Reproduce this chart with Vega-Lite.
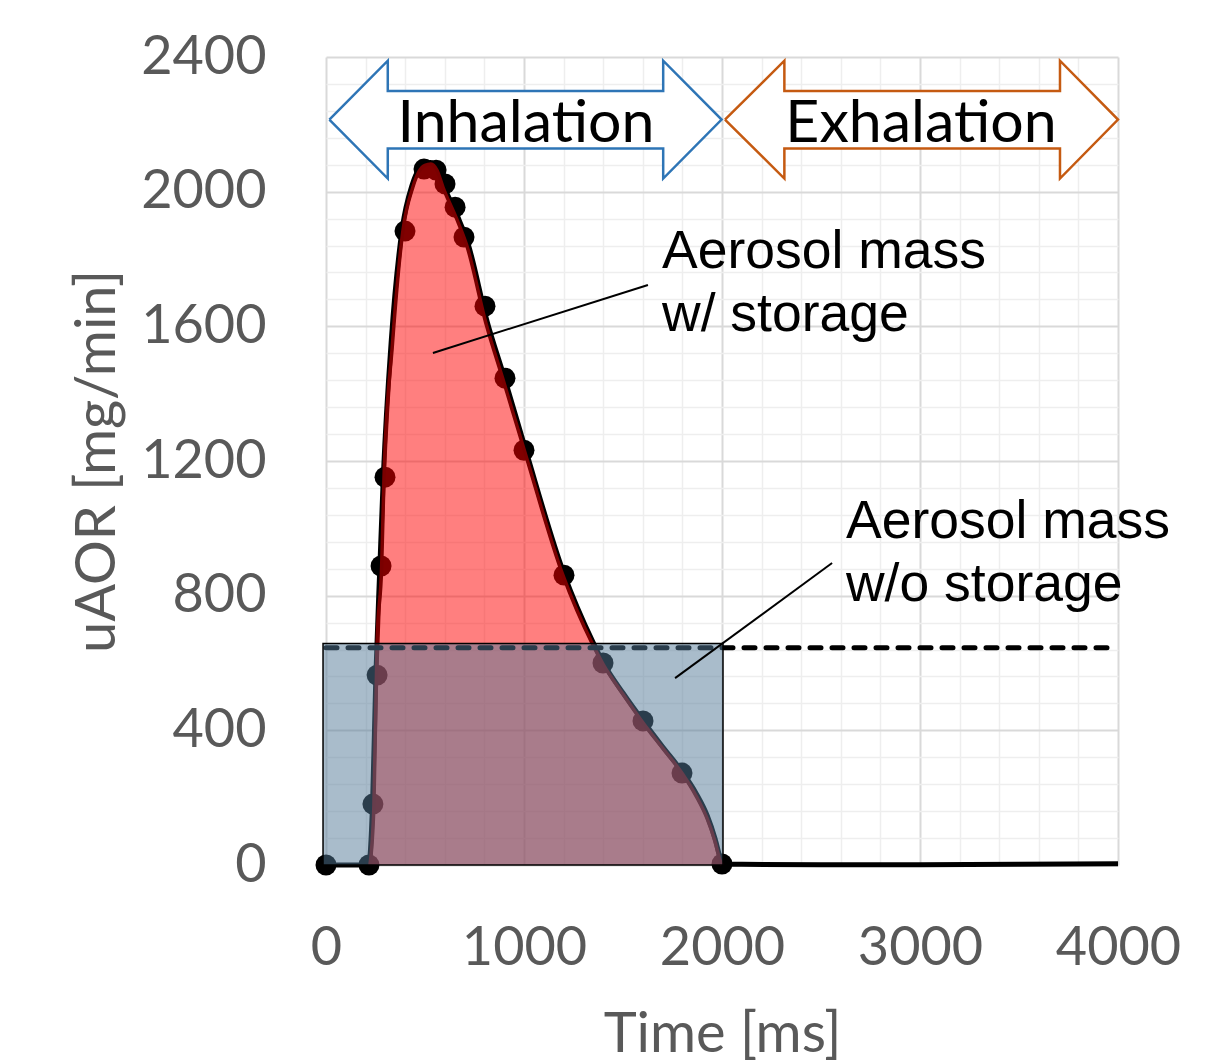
{
  "$schema": "https://vega.github.io/schema/vega-lite/v6.json",
  "autosize": {"type": "none"},
  "width": 792,
  "height": 808,
  "padding": {"left": 326, "top": 57, "right": 113, "bottom": 198},
  "background": "white",
  "config": {"view": {"stroke": null}},
  "resolve": {"axis": {"x": "independent", "y": "independent"}},
  "datasets": {
    "measured": [
      {"t": 0, "v": 0}, {"t": 215, "v": 0}, {"t": 235, "v": 180}, {"t": 252, "v": 565}, {"t": 272, "v": 885},
      {"t": 290, "v": 1160}, {"t": 330, "v": 1560}, {"t": 385, "v": 1890}, {"t": 435, "v": 2020}, {"t": 470, "v": 2068},
      {"t": 500, "v": 2084}, {"t": 530, "v": 2087}, {"t": 560, "v": 2070}, {"t": 595, "v": 2016}, {"t": 665, "v": 1926},
      {"t": 715, "v": 1850}, {"t": 815, "v": 1612}, {"t": 900, "v": 1450}, {"t": 1008, "v": 1234}, {"t": 1200, "v": 868},
      {"t": 1350, "v": 660}, {"t": 1400, "v": 601}, {"t": 1500, "v": 511}, {"t": 1600, "v": 429}, {"t": 1700, "v": 351},
      {"t": 1800, "v": 276}, {"t": 1870, "v": 212}, {"t": 1925, "v": 147}, {"t": 1965, "v": 78}, {"t": 1990, "v": 22},
      {"t": 2000, "v": 3}, {"t": 2100, "v": 2}, {"t": 2500, "v": 1}, {"t": 3000, "v": 1}, {"t": 3500, "v": 2}, {"t": 4000, "v": 4}
    ],
    "fit": [
      {"t": 222, "v": 0}, {"t": 242, "v": 178}, {"t": 258, "v": 660}, {"t": 281, "v": 885}, {"t": 293, "v": 1152},
      {"t": 336, "v": 1550}, {"t": 389, "v": 1886}, {"t": 439, "v": 2014}, {"t": 470, "v": 2060}, {"t": 500, "v": 2078},
      {"t": 530, "v": 2082}, {"t": 560, "v": 2064}, {"t": 591, "v": 2013}, {"t": 660, "v": 1919}, {"t": 710, "v": 1842},
      {"t": 810, "v": 1604}, {"t": 893, "v": 1444}, {"t": 1003, "v": 1229}, {"t": 1195, "v": 863}, {"t": 1346, "v": 656},
      {"t": 1399, "v": 597}, {"t": 1500, "v": 507}, {"t": 1600, "v": 423}, {"t": 1700, "v": 347}, {"t": 1800, "v": 271},
      {"t": 1870, "v": 204}, {"t": 1924, "v": 139}, {"t": 1965, "v": 69}, {"t": 1990, "v": 14}, {"t": 2000, "v": 0}
    ],
    "dots": [
      {"t": 0, "v": 0}, {"t": 217, "v": 0}, {"t": 237, "v": 181}, {"t": 258, "v": 564}, {"t": 278, "v": 888},
      {"t": 298, "v": 1152}, {"t": 399, "v": 1883}, {"t": 495, "v": 2067}, {"t": 556, "v": 2064}, {"t": 601, "v": 2023},
      {"t": 652, "v": 1954}, {"t": 697, "v": 1865}, {"t": 803, "v": 1660}, {"t": 904, "v": 1446}, {"t": 1000, "v": 1232},
      {"t": 1202, "v": 861}, {"t": 1399, "v": 600}, {"t": 1601, "v": 428}, {"t": 1798, "v": 273}, {"t": 2000, "v": 3}
    ],
    "box": [{"t0": -15, "t1": 2005, "v0": 0, "v1": 658}],
    "level": [{"t0": 0, "t1": 4000, "v": 645}],
    "leaders": [
      {"t0": 540, "v0": 1521, "t1": 1626, "v1": 1723},
      {"t0": 1763, "v0": 555, "t1": 2556, "v1": 897}
    ],
    "notes": [
      {"t": 1697, "v": 1773, "text": "Aerosol mass"},
      {"t": 1697, "v": 1586, "text": "w/ storage"},
      {"t": 2626, "v": 971, "text": "Aerosol mass"},
      {"t": 2626, "v": 784, "text": "w/o storage"}
    ],
    "arrows": [
      {"phase": "Inhalation", "i": 0, "t": 17, "v": 2214},
      {"phase": "Inhalation", "i": 1, "t": 312, "v": 2389},
      {"phase": "Inhalation", "i": 2, "t": 312, "v": 2299},
      {"phase": "Inhalation", "i": 3, "t": 1703, "v": 2299},
      {"phase": "Inhalation", "i": 4, "t": 1703, "v": 2389},
      {"phase": "Inhalation", "i": 5, "t": 1998, "v": 2214},
      {"phase": "Inhalation", "i": 6, "t": 1703, "v": 2039},
      {"phase": "Inhalation", "i": 7, "t": 1703, "v": 2128},
      {"phase": "Inhalation", "i": 8, "t": 312, "v": 2128},
      {"phase": "Inhalation", "i": 9, "t": 312, "v": 2039},
      {"phase": "Inhalation", "i": 10, "t": 17, "v": 2214},
      {"phase": "Exhalation", "i": 0, "t": 2015, "v": 2214},
      {"phase": "Exhalation", "i": 1, "t": 2315, "v": 2389},
      {"phase": "Exhalation", "i": 2, "t": 2315, "v": 2299},
      {"phase": "Exhalation", "i": 3, "t": 3707, "v": 2299},
      {"phase": "Exhalation", "i": 4, "t": 3707, "v": 2389},
      {"phase": "Exhalation", "i": 5, "t": 4000, "v": 2214},
      {"phase": "Exhalation", "i": 6, "t": 3707, "v": 2039},
      {"phase": "Exhalation", "i": 7, "t": 3707, "v": 2128},
      {"phase": "Exhalation", "i": 8, "t": 2315, "v": 2128},
      {"phase": "Exhalation", "i": 9, "t": 2315, "v": 2039},
      {"phase": "Exhalation", "i": 10, "t": 2015, "v": 2214}
    ],
    "phases": [
      {"t": 1010, "v": 2147, "text": "Inhalation"},
      {"t": 3005, "v": 2147, "text": "Exhalation"}
    ]
  },
  "layer": [
    {
      "data": {"name": "measured"},
      "mark": {"type": "line", "color": "black", "strokeWidth": 5, "interpolate": "monotone"},
      "encoding": {
        "x": {
          "field": "t", "type": "quantitative",
          "scale": {"domain": [0, 4000], "nice": false, "zero": false},
          "axis": {
            "orient": "top",
            "values": [200, 400, 600, 800, 1200, 1400, 1600, 1800, 2200, 2400, 2600, 2800, 3200, 3400, 3600, 3800],
            "grid": true, "gridColor": "#eeeeee", "gridWidth": 1.5,
            "labels": false, "ticks": false, "domain": false, "title": null
          }
        },
        "y": {
          "field": "v", "type": "quantitative",
          "scale": {"domain": [0, 2400], "nice": false},
          "axis": {
            "orient": "right",
            "values": [80, 160, 240, 320, 480, 560, 640, 720, 880, 960, 1040, 1120, 1280, 1360, 1440, 1520, 1680, 1760, 1840, 1920, 2080, 2160, 2240, 2320],
            "grid": true, "gridColor": "#eeeeee", "gridWidth": 1.5,
            "labels": false, "ticks": false, "domain": false, "title": null
          }
        }
      }
    },
    {
      "data": {"name": "dots"},
      "mark": {"type": "circle", "color": "black", "opacity": 1, "size": 440},
      "encoding": {
        "x": {
          "field": "t", "type": "quantitative",
          "axis": {
            "orient": "bottom",
            "values": [0, 1000, 2000, 3000, 4000],
            "format": "d",
            "grid": true, "gridColor": "#d9d9d9", "gridWidth": 2,
            "ticks": false, "domain": false,
            "labelFont": "Lato", "labelFontSize": 54, "labelColor": "#595959", "labelPadding": 56,
            "labelFlush": false, "labelOverlap": false,
            "title": "Time [ms]", "titleFont": "Lato", "titleFontSize": 56, "titleFontWeight": "normal",
            "titleColor": "#595959", "titlePadding": 32
          }
        },
        "y": {
          "field": "v", "type": "quantitative",
          "axis": {
            "orient": "left",
            "values": [0, 400, 800, 1200, 1600, 2000, 2400],
            "format": "d",
            "grid": true, "gridColor": "#d9d9d9", "gridWidth": 2,
            "ticks": false, "domain": false,
            "labelFont": "Lato", "labelFontSize": 54, "labelColor": "#595959", "labelPadding": 60,
            "labelFlush": false, "labelOverlap": false,
            "title": "uAOR [mg/min]", "titleFont": "Lato", "titleFontSize": 56, "titleFontWeight": "normal",
            "titleColor": "#595959", "titlePadding": 14
          }
        }
      }
    },
    {
      "data": {"name": "fit"},
      "mark": {"type": "area", "color": "#ff0000", "opacity": 0.5, "interpolate": "monotone"},
      "encoding": {
        "x": {"field": "t", "type": "quantitative", "axis": null},
        "y": {"field": "v", "type": "quantitative", "axis": null}
      }
    },
    {
      "data": {"name": "fit"},
      "mark": {"type": "line", "color": "#7a0000", "strokeWidth": 3.5, "interpolate": "monotone"},
      "encoding": {
        "x": {"field": "t", "type": "quantitative", "axis": null},
        "y": {"field": "v", "type": "quantitative", "axis": null}
      }
    },
    {
      "data": {"name": "level"},
      "mark": {"type": "rule", "color": "black", "strokeWidth": 5, "strokeDash": [11, 11], "strokeCap": "round"},
      "encoding": {
        "x": {"field": "t0", "type": "quantitative", "axis": null},
        "x2": {"field": "t1"},
        "y": {"field": "v", "type": "quantitative", "axis": null}
      }
    },
    {
      "data": {"name": "box"},
      "mark": {"type": "rect", "fill": "#537a97", "fillOpacity": 0.5, "stroke": "black", "strokeWidth": 1.5},
      "encoding": {
        "x": {"field": "t0", "type": "quantitative", "axis": null},
        "x2": {"field": "t1"},
        "y": {"field": "v0", "type": "quantitative", "axis": null},
        "y2": {"field": "v1"}
      }
    },
    {
      "data": {"name": "leaders"},
      "mark": {"type": "rule", "color": "black", "strokeWidth": 2},
      "encoding": {
        "x": {"field": "t0", "type": "quantitative", "axis": null},
        "x2": {"field": "t1"},
        "y": {"field": "v0", "type": "quantitative", "axis": null},
        "y2": {"field": "v1"}
      }
    },
    {
      "data": {"name": "notes"},
      "mark": {"type": "text", "font": "Liberation Sans", "fontSize": 53.5, "color": "black", "align": "left", "baseline": "alphabetic"},
      "encoding": {
        "x": {"field": "t", "type": "quantitative", "axis": null},
        "y": {"field": "v", "type": "quantitative", "axis": null},
        "text": {"field": "text"}
      }
    },
    {
      "data": {"name": "arrows"},
      "mark": {"type": "line", "fill": "white", "strokeWidth": 2.5, "strokeJoin": "miter", "interpolate": "linear"},
      "encoding": {
        "x": {"field": "t", "type": "quantitative", "axis": null},
        "y": {"field": "v", "type": "quantitative", "axis": null},
        "order": {"field": "i"},
        "detail": {"field": "phase"},
        "stroke": {"field": "phase", "type": "nominal", "scale": {"domain": ["Inhalation", "Exhalation"], "range": ["#2e75b6", "#c55a11"]}, "legend": null}
      }
    },
    {
      "data": {"name": "phases"},
      "mark": {"type": "text", "font": "Lato", "fontSize": 59, "color": "black", "align": "center", "baseline": "alphabetic"},
      "encoding": {
        "x": {"field": "t", "type": "quantitative", "axis": null},
        "y": {"field": "v", "type": "quantitative", "axis": null},
        "text": {"field": "text"}
      }
    }
  ]
}
